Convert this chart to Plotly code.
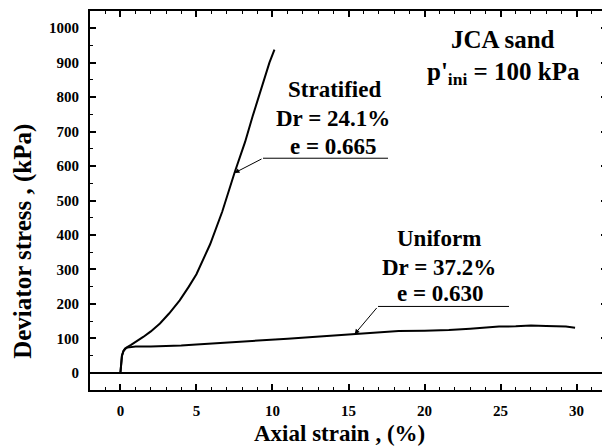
import plotly.graph_objects as go

# ---- data ----
strat_strain = [0, 0.05, 0.1, 0.2, 0.4, 0.7, 1.0, 1.5, 2.0, 2.6, 3.2, 3.9, 4.5, 5.0, 5.9, 6.7, 7.5, 8.2, 8.7, 9.3, 9.8, 10.13]
strat_stress = [0, 30, 50, 63, 73, 81, 89, 104, 120, 143, 172, 210, 250, 286, 373, 468, 580, 670, 745, 830, 900, 938]

unif_strain = [0, 0.05, 0.1, 0.2, 0.3, 0.45, 0.7, 1, 2, 3, 4, 5, 6, 7, 8, 9, 10, 11, 12.4, 13.5, 15.4, 16.5, 18.3, 20, 21.6, 23, 24.9, 26, 27, 28, 28.5, 29.3, 29.9]
unif_stress = [0, 28, 48, 63, 70, 73, 75, 76, 76.5, 77, 79, 82, 84.5, 87.5, 90.5, 94, 96, 99, 103, 106, 112, 115, 121, 122, 124, 128, 134, 135, 137, 136, 136, 134, 131]

x_ticks = [0, 5, 10, 15, 20, 25, 30]
y_ticks = [0, 100, 200, 300, 400, 500, 600, 700, 800, 900, 1000]

FONT = "Liberation Serif, Times New Roman, serif"

# the page has an 8px body margin; reference pixels are mapped accordingly
OFF = 8
W, H = 610 - OFF, 448 - OFF
X0, X1, Y0, Y1 = -2, 32, -50, 1050
PL, PR, PT, PB = 90, 607, 9, 390          # plot area in reference pixels
def px2x(px):
    return X0 + (px - PL) / (PR - PL) * (X1 - X0)
def py2y(py):
    return Y0 + (PB - py) / (PB - PT) * (Y1 - Y0)

fig = go.Figure()
fig.add_trace(go.Scatter(x=strat_strain, y=strat_stress, mode="lines",
                         line=dict(color="black", width=2), showlegend=False))
fig.add_trace(go.Scatter(x=unif_strain, y=unif_stress, mode="lines",
                         line=dict(color="black", width=2), showlegend=False))

def txt(text, px, py, size=23):
    return dict(text=text, x=px2x(px), y=py2y(py), xref="x", yref="y",
                showarrow=False, xanchor="center", yanchor="middle",
                font=dict(family=FONT, size=size, color="black", weight="bold"))

anns = [
    txt("JCA sand", 503, 38, 25),
    txt("p'<sub>ini</sub> = 100 kPa", 503, 72, 25),
    txt("Stratified", 334, 88),
    txt("Dr = 24.1%", 333, 117),
    txt("e = 0.665", 333, 145),
    txt("Uniform", 439, 238),
    txt("Dr = 37.2%", 439, 267),
    txt("e = 0.630", 440, 293),
]

# arrows pointing to curve points
si = strat_strain.index(7.5)
ui = unif_strain.index(15.4)
anns.append(dict(x=strat_strain[si], y=strat_stress[si], xref="x", yref="y",
                 ax=px2x(263), ay=py2y(157), axref="x", ayref="y",
                 showarrow=True, arrowhead=2, arrowsize=1, arrowwidth=1, arrowcolor="black", text=""))
anns.append(dict(x=unif_strain[ui], y=unif_stress[ui], xref="x", yref="y",
                 ax=px2x(378), ay=py2y(306), axref="x", ayref="y",
                 showarrow=True, arrowhead=2, arrowsize=1, arrowwidth=1, arrowcolor="black", text=""))

# axis titles
anns.append(dict(text="Axial strain , (%)", x=px2x(339), y=(PB - 434) / (PB - PT), xref="x", yref="paper",
                 showarrow=False, xanchor="center", yanchor="middle",
                 font=dict(family=FONT, size=23, color="black", weight="bold")))
anns.append(dict(text="Deviator stress , (kPa)", x=(23 - PL) / (PR - PL), y=py2y(241), xref="paper", yref="y",
                 showarrow=False, xanchor="center", yanchor="middle", textangle=-90,
                 font=dict(family=FONT, size=25, color="black", weight="bold")))

shapes = [
    dict(type="line", xref="x", yref="y", x0=px2x(263), x1=px2x(388), y0=py2y(157), y1=py2y(157),
         line=dict(color="black", width=1)),
    dict(type="line", xref="x", yref="y", x0=px2x(378), x1=px2x(509), y0=py2y(306), y1=py2y(306),
         line=dict(color="black", width=1)),
]

tickfont = dict(family=FONT, size=15, color="black", weight="bold")
fig.update_layout(
    width=W, height=H,
    margin=dict(l=PL - OFF, r=W - (PR - OFF), t=PT - OFF, b=H - (PB - OFF), pad=0),
    paper_bgcolor="white", plot_bgcolor="white",
    annotations=anns, shapes=shapes,
    xaxis=dict(range=[X0, X1], tickvals=x_ticks, ticks="inside", ticklen=6, tickwidth=1.5,
               tickcolor="black", showline=True, linewidth=2, linecolor="black", mirror="ticks",
               showgrid=False, zeroline=False, tickfont=tickfont, ticklabelstandoff=6,
               minor=dict(dtick=1, tick0=0, ticks="inside", ticklen=3, tickwidth=1, tickcolor="black")),
    yaxis=dict(range=[Y0, Y1], tickvals=y_ticks, ticks="inside", ticklen=6, tickwidth=1.5,
               tickcolor="black", showline=True, linewidth=2, linecolor="black", mirror="ticks",
               showgrid=False, zeroline=True, zerolinecolor="black", zerolinewidth=1.5,
               tickfont=tickfont, ticklabelstandoff=6,
               minor=dict(dtick=50, tick0=0, ticks="inside", ticklen=3, tickwidth=1, tickcolor="black")),
)

fig.write_html("out.html")
